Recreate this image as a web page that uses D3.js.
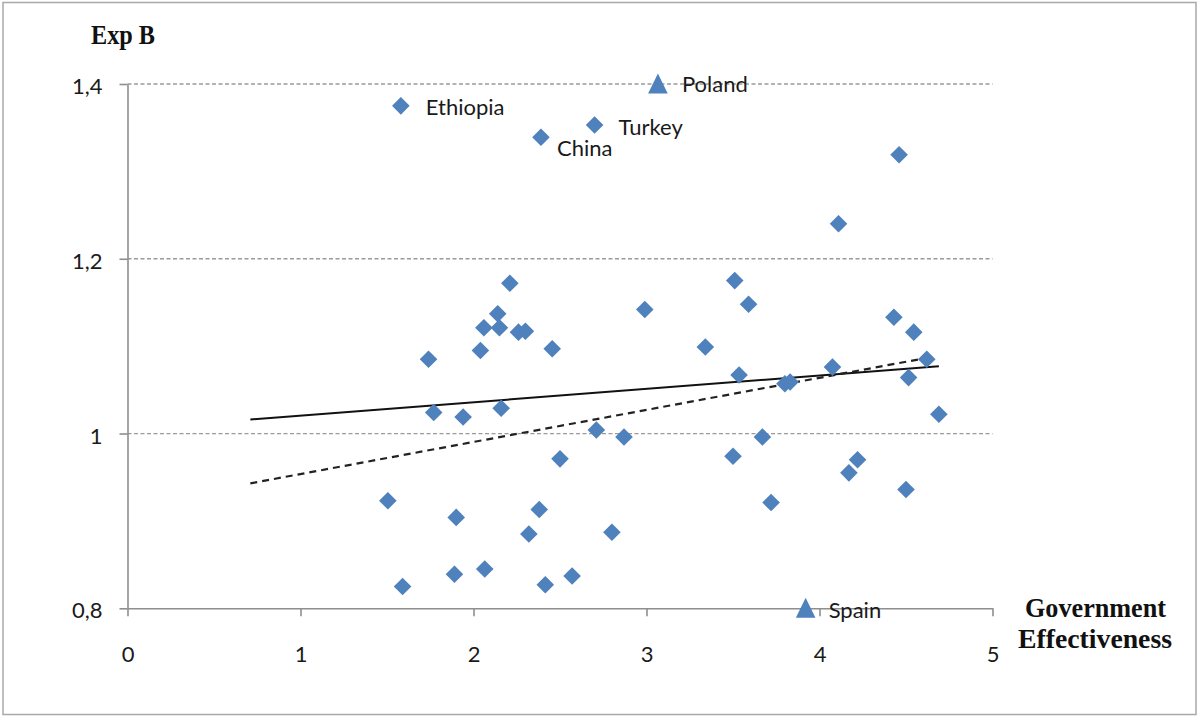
<!DOCTYPE html>
<html>
<head>
<meta charset="utf-8">
<script src="https://cdn.jsdelivr.net/npm/d3@7"></script>
<style>
  html, body { margin: 0; padding: 0; background: #fff; }
  svg { display: block; }
  .tick text { font-family: Lato, "Open Sans", sans-serif; font-size: 22px; fill: #1a1a1a; }
</style>
</head>
<body>
<svg id="chart" width="1200" height="717"></svg>
<script>
// Government effectiveness (x) vs. Exp B (y), one diamond per country
const govEff = [
  1.58, 2.39, 2.70, 4.46, 4.11, 2.21, 2.14, 2.06, 2.15, 2.26,
  2.30, 2.04, 2.455, 1.74, 2.99, 1.77, 1.94, 2.16, 2.71, 2.87,
  3.51, 3.59, 3.34, 3.535, 3.80, 3.83, 4.075, 4.43, 4.545, 4.62,
  4.515, 4.69, 3.67, 3.50, 4.22, 4.17, 4.50, 3.72, 2.50, 1.505,
  1.90, 2.38, 2.32, 2.80, 1.59, 1.89, 2.065, 2.415, 2.57
];
const expB = [
  1.375, 1.339, 1.353, 1.319, 1.240, 1.172, 1.137, 1.121, 1.121, 1.116,
  1.117, 1.095, 1.097, 1.085, 1.142, 1.024, 1.019, 1.029, 1.004, 0.996,
  1.175, 1.148, 1.099, 1.067, 1.057, 1.059, 1.076, 1.133, 1.116, 1.085,
  1.064, 1.022, 0.996, 0.974, 0.970, 0.955, 0.936, 0.921, 0.971, 0.923,
  0.904, 0.913, 0.885, 0.887, 0.825, 0.839, 0.845, 0.827, 0.837
];
// names shown next to a few of the diamonds (same order as above)
const diamondNames = ["Ethiopia", "China", "Turkey"];

// countries drawn as triangles
const triangleNames = ["Poland", "Spain"];
const triangleGovEff = [3.066, 3.92];
const triangleExpB = [1.400, 0.800];

// trend lines: endpoints [x, y]
const solidTrendX = [0.71, 4.69];
const solidTrendY = [1.016, 1.077];
const dashedTrendX = [0.71, 4.66];
const dashedTrendY = [0.943, 1.088];

// axis ticks
const xTicks = [0, 1, 2, 3, 4, 5];
const xTickLabels = ["0", "1", "2", "3", "4", "5"];
const yTicks = [0.8, 1.0, 1.2, 1.4];
const yTickLabels = ["0,8", "1", "1,2", "1,4"];
const gridValues = [1.0, 1.2, 1.4];

const yTitle = "Exp B";
const xTitle = ["Government", "Effectiveness"];

// label placement relative to its marker (pixels)
const labelOffset = {
  Ethiopia: [25, 9], China: [16, 19], Turkey: [24, 10],
  Poland: [24, 8], Spain: [23, 10]
};

const svg = d3.select("#chart");
const blue = "#4f81bd";

const x = d3.scaleLinear().domain([0, 5]).range([127.5, 992.5]);
const y = d3.scaleLinear().domain([0.8, 1.4]).range([608.3, 84]);

// outer frame
svg.append("rect")
  .attr("x", 3).attr("y", 2.5).attr("width", 1193).attr("height", 712)
  .attr("fill", "#fff").attr("stroke", "#a9a9a9").attr("stroke-width", 1.5);

// dashed horizontal gridlines
svg.append("g").selectAll("line").data(gridValues).join("line")
  .attr("x1", x(0)).attr("x2", x(5))
  .attr("y1", d => y(d)).attr("y2", d => y(d))
  .attr("stroke", "#9a9a9a").attr("stroke-width", 1.3)
  .attr("stroke-dasharray", "4,2.5");

// axes
const xAxis = d3.axisBottom(x).tickValues(xTicks)
  .tickFormat((d, i) => xTickLabels[i]).tickSize(8).tickSizeOuter(0).tickPadding(30);
const yAxis = d3.axisLeft(y).tickValues(yTicks)
  .tickFormat((d, i) => yTickLabels[i]).tickSize(8).tickSizeOuter(0).tickPadding(17);

const gx = svg.append("g").attr("transform", `translate(0,${y(0.8)})`).call(xAxis);
const gy = svg.append("g").attr("transform", `translate(${x(0)},0)`).call(yAxis);
[gx, gy].forEach(g => {
  g.select(".domain").attr("stroke", "#8e8e8e").attr("stroke-width", 1.6);
  g.selectAll(".tick line").attr("stroke", "#8e8e8e").attr("stroke-width", 1.6);
});
gy.selectAll(".tick text").attr("dy", "0.43em");

// trend lines
const trendLine = d3.line().x(d => x(d[0])).y(d => y(d[1]));
svg.append("path")
  .datum(d3.zip(solidTrendX, solidTrendY))
  .attr("d", trendLine).attr("fill", "none")
  .attr("stroke", "#111").attr("stroke-width", 2);
svg.append("path")
  .datum(d3.zip(dashedTrendX, dashedTrendY))
  .attr("d", trendLine).attr("fill", "none")
  .attr("stroke", "#222").attr("stroke-width", 2.2)
  .attr("stroke-dasharray", "7,5");

// diamonds
const diamonds = govEff.map((g, i) => ({ g, e: expB[i], name: diamondNames[i] || "" }));
const diamondPath = "M0,-8.8L8.8,0L0,8.8L-8.8,0Z";
svg.append("g").selectAll("path").data(diamonds).join("path")
  .attr("d", diamondPath)
  .attr("transform", d => `translate(${x(d.g)},${y(d.e)})`)
  .attr("fill", blue);

// triangles
const triangles = triangleNames.map((n, i) => ({ g: triangleGovEff[i], e: triangleExpB[i], name: n }));
const trianglePath = "M0,-10.5L9.8,9.5L-9.8,9.5Z";
svg.append("g").selectAll("path").data(triangles).join("path")
  .attr("d", trianglePath)
  .attr("transform", d => `translate(${x(d.g)},${y(d.e)})`)
  .attr("fill", blue);

// country labels
const labelled = diamonds.filter(d => d.name).concat(triangles);
svg.append("g").selectAll("text").data(labelled).join("text")
  .attr("x", d => x(d.g) + labelOffset[d.name][0])
  .attr("y", d => y(d.e) + labelOffset[d.name][1])
  .attr("font-family", "Lato, 'Open Sans', sans-serif")
  .attr("font-size", 22).attr("fill", "#1a1a1a")
  .text(d => d.name);

// axis titles
svg.append("text")
  .attr("x", 91).attr("y", 43.5)
  .attr("font-family", "'Liberation Serif', 'DejaVu Serif', serif")
  .attr("font-weight", "bold").attr("font-size", 27).attr("fill", "#111")
  .attr("textLength", 64).attr("lengthAdjust", "spacingAndGlyphs")
  .text(yTitle);

const xTitleLayout = [{ x: 1025, y: 617, w: 141 }, { x: 1018, y: 648, w: 154 }];
svg.append("g").selectAll("text").data(xTitle).join("text")
  .attr("x", (d, i) => xTitleLayout[i].x).attr("y", (d, i) => xTitleLayout[i].y)
  .attr("textLength", (d, i) => xTitleLayout[i].w).attr("lengthAdjust", "spacingAndGlyphs")
  .attr("font-family", "'Liberation Serif', 'DejaVu Serif', serif")
  .attr("font-weight", "bold").attr("font-size", 27).attr("fill", "#111")
  .text(d => d);
</script>
</body>
</html>
